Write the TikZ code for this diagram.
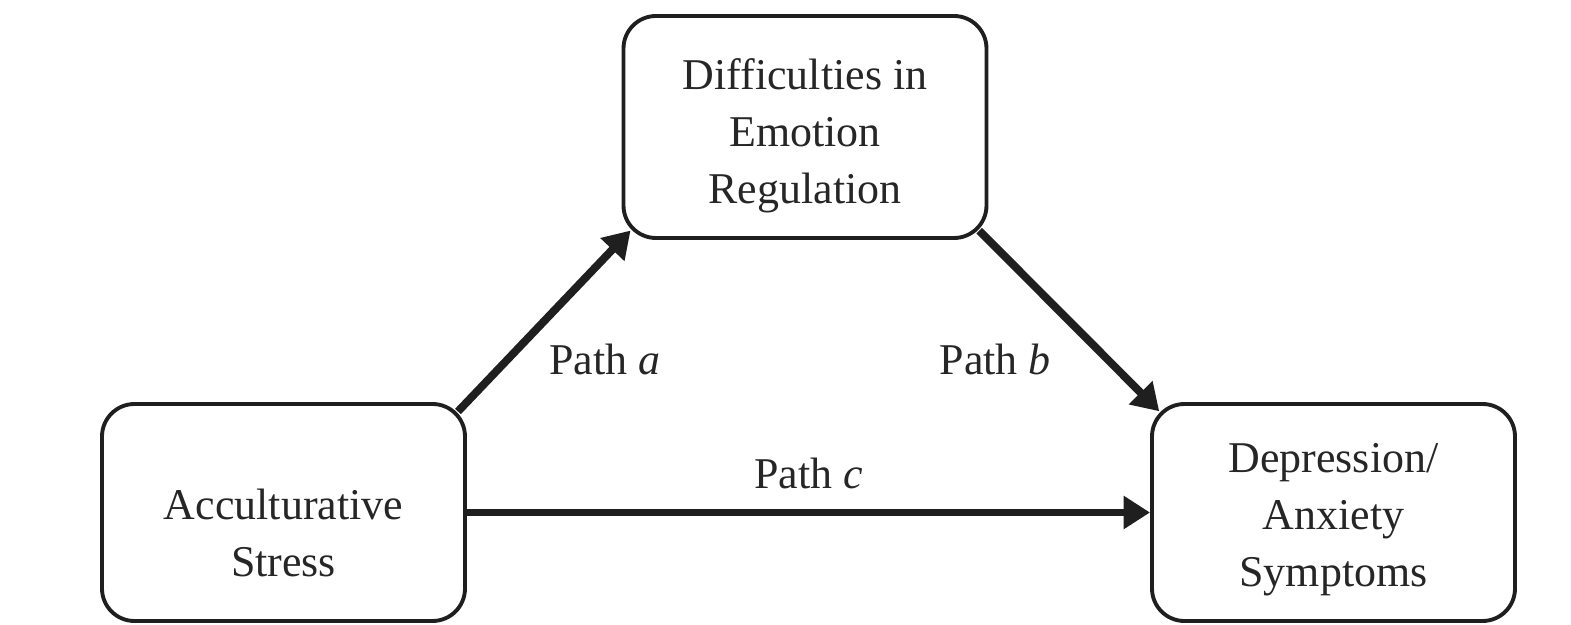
\documentclass[tikz,border=0pt]{standalone}
\usepackage{fontspec}
\setmainfont{Liberation Serif}
\usetikzlibrary{arrows.meta}

\begin{document}
\begin{tikzpicture}[line join=round, font=\fontsize{25}{32.4}\selectfont, box node/.style={rectangle,rounded corners=0.65cm,draw=black!88,line width=2.2pt,fill=white,minimum width=7.26cm,inner sep=0pt}, path arrow/.style={line width=4.5pt,draw=black!88,-{Triangle[length=15pt,width=18pt]}}]%
\useasboundingbox (0,0) rectangle (31.42,-12.5);
\begin{scope}
\node[box node, minimum height=4.44cm] (dre) at (16.10,-2.54) {};
\node[box node, minimum height=4.34cm] (acc) at (5.67,-10.25) {};
\node[box node, minimum height=4.34cm] (dep) at (26.67,-10.25) {};
\end{scope}
\begin{scope}[every node/.style={align=center, text=black!85}]
\node (dre text) at (16.10,-2.72) {Difficulties in\\Emotion\\Regulation};
\node (acc text) at (5.67,-10.66) {Acculturative\\Stress};
\node (dep text) at (26.67,-10.39) {Depression/\\Anxiety\\Symptoms};
\end{scope}
\begin{scope}
\draw[path arrow, shorten <=-0.26cm, shorten >=-0.26cm] (acc.north east) -- node[xshift=1.21cm, yshift=-0.76cm, text=black!85] (lbl a) {Path \textit{a}} (dre.south west);
\draw[path arrow, shorten <=-0.26cm, shorten >=-0.26cm] (dre.south east) -- node[xshift=-1.48cm, yshift=-0.76cm, text=black!85] (lbl b) {Path \textit{b}} (dep.north west);
\draw[path arrow] (acc.east) -- node[above=0.27cm, text=black!85] (lbl c) {Path \textit{c}} (dep.west);
\end{scope}
\end{tikzpicture}
\end{document}
